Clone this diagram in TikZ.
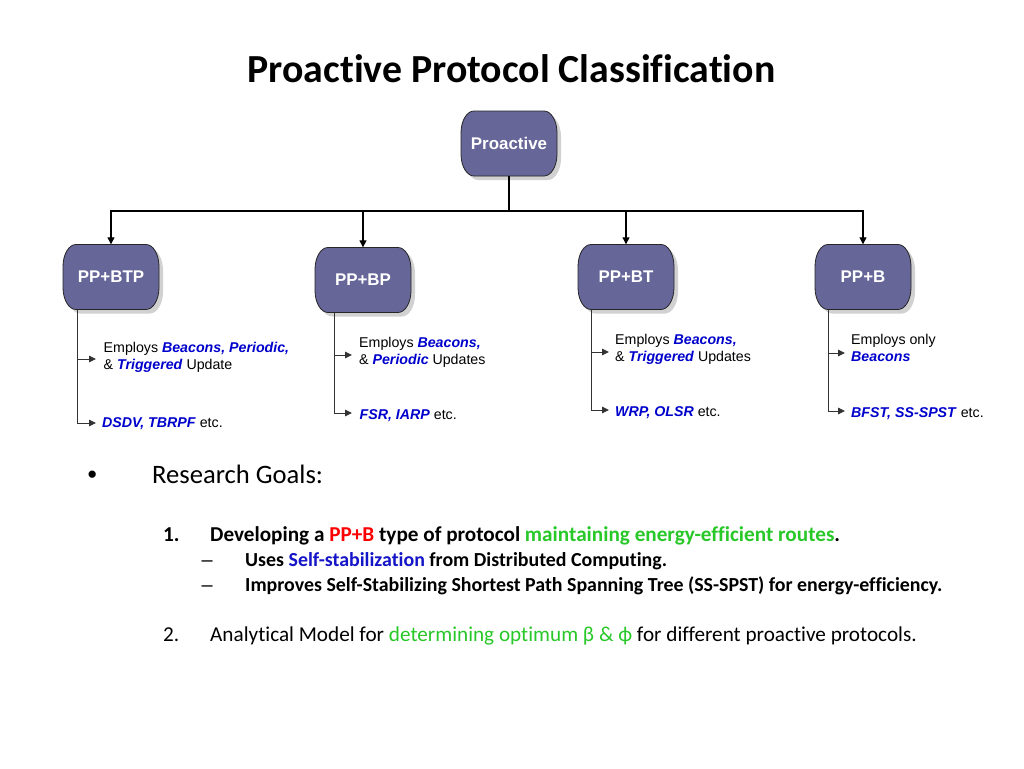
\documentclass[tikz,border=0pt]{standalone}
\usepackage{fontspec}
\setmainfont{Carlito}[Ligatures=NoCommon]
\newfontfamily\arialf{Liberation Sans}
\usetikzlibrary{arrows.meta,backgrounds}
\definecolor{nodefill}{RGB}{102,102,153}
\definecolor{lblue}{RGB}{0,0,204}
\definecolor{ggreen}{RGB}{40,200,40}
\definecolor{rred}{RGB}{255,0,0}
\definecolor{sblue}{RGB}{20,20,200}
\newcommand\kwbi[1]{\textcolor{lblue}{\textbf{\textit{#1}}}}
\newcommand\pshapepath{(-35,-32.5) -- (35,-32.5) .. controls (42.18,-32.5) and (48,-22.65) .. (48,-10.5) -- (48,10.5) .. controls (48,22.65) and (42.18,32.5) .. (35,32.5) -- (-35,32.5) .. controls (-42.18,32.5) and (-48,22.65) .. (-48,10.5) -- (-48,-10.5) .. controls (-48,-22.65) and (-42.18,-32.5) .. (-35,-32.5) -- cycle}
\tikzset{
  pnode/.style={minimum width=96pt, minimum height=65pt, inner sep=0pt, text=white,
    font=\arialf\bfseries\fontsize{16.9}{19}\selectfont},
  pshape/.style={fill=nodefill, draw=black!85, line width=0.8pt},
  pshadow/.style={fill=black!18},
  trunk/.style={draw=black, line width=1.6pt},
  bararr/.style={draw=black, line width=1.2pt, -{Triangle[length=7pt,width=7pt]}},
  sidearr/.style={draw=black!80, line width=0.9pt, -{Triangle[length=7pt,width=6.5pt]}},
  lbl/.style={inner sep=0pt, align=left, anchor=west, text height=10.2pt, text depth=2.9pt,
    font=\arialf\fontsize{14.2}{17}\selectfont},
  title/.style={inner sep=0pt, anchor=base, font=\bfseries\fontsize{39.8}{44}\selectfont},
  goal/.style={inner sep=0pt, anchor=base west, font=\fontsize{26.6}{30}\selectfont},
  item/.style={inner sep=0pt, anchor=base west, font=\fontsize{21.2}{24}\selectfont},
  subitem/.style={inner sep=0pt, anchor=base west, font=\fontsize{19.9}{23}\selectfont},
}
\begin{document}
\begin{tikzpicture}[x=1pt,y=-1pt]
\useasboundingbox (0,0) rectangle (1024,768);

\node[title] (ttl) at (511.5,82) {Proactive Protocol Classification};

% main nodes
\node[pnode] (pro) at (509,143.5) {Proactive};
\node[pnode] (btp) at (111,277) {PP+BTP};
\node[pnode] (bp)  at (363,280) {PP+BP};
\node[pnode] (bt)  at (626,277) {PP+BT};
\node[pnode] (b)   at (863,277) {PP+B};

% tree connectors
\coordinate (bar) at (509,211);
\draw[trunk] (pro.south) -- (bar);
\draw[bararr] (bar) -| (btp.north);
\draw[bararr] (bar) -| (bp.north);
\draw[bararr] (bar) -| (bt.north);
\draw[bararr] (bar) -| (b.north);

% labels
\node[lbl] (btp1) at (103.5,366) {Employs \kwbi{Beacons, Periodic,}\\\& \kwbi{Triggered} Update};
\node[lbl] (btp2) at (102,423.5) {\kwbi{DSDV, TBRPF} etc.};
\node[lbl] (bp1) at (359,361) {Employs \kwbi{Beacons,}\\\& \kwbi{Periodic} Updates};
\node[lbl] (bp2) at (359.5,416) {\kwbi{FSR, IARP} etc.};
\node[lbl] (bt1) at (615,357.5) {Employs \kwbi{Beacons,}\\\& \kwbi{Triggered} Updates};
\node[lbl] (bt2) at (615,413) {\kwbi{WRP, OLSR} etc.};
\node[lbl] (b1) at (851,358) {Employs only\\\kwbi{Beacons}};
\node[lbl] (b2) at (851,414) {\kwbi{BFST, SS-SPST} etc.};

\coordinate (btpT) at (77,300);  \coordinate (btpA) at (96,359);  \coordinate (btpB) at (96,423);
\coordinate (bpT)  at (334,300); \coordinate (bpA)  at (352,355); \coordinate (bpB)  at (352,413);
\coordinate (btT)  at (591,300); \coordinate (btA)  at (609,352); \coordinate (btB)  at (609,410);
\coordinate (bT)   at (828,300); \coordinate (bA)   at (845,353); \coordinate (bB)   at (845,411);

\begin{scope}[on background layer]
  \fill[white] (0,0) rectangle (1024,768);
  \foreach \n in {pro,btp,bp,bt,b}{
    \fill[pshadow, shift={(\n.center)}, xshift=4pt, yshift=-4pt] \pshapepath;
  }
  \draw[sidearr] (btpT) |- (btpB);
  \draw[sidearr] (btpT |- btpA) -- (btpA);
  \draw[sidearr] (bpT) |- (bpB);
  \draw[sidearr] (bpT |- bpA) -- (bpA);
  \draw[sidearr] (btT) |- (btB);
  \draw[sidearr] (btT |- btA) -- (btA);
  \draw[sidearr] (bT) |- (bB);
  \draw[sidearr] (bT |- bA) -- (bA);
  \foreach \n in {pro,btp,bp,bt,b}{
    \path[pshape, shift={(\n.center)}] \pshapepath;
  }
\end{scope}

% research goals
\node[goal] (bul) at (87.5,483) {\arialf •};
\node[goal] (rg) at (152,483) {Research Goals:};
\node[item] (n1) at (163,541) {\textbf{1.}};
\node[item] (g1) at (210,541) {\textbf{Developing a \textcolor{rred}{PP+B} type of protocol \textcolor{ggreen}{maintaining energy-efficient routes}.}};
\node[subitem] (d1) at (201.5,566) {\arialf –};
\node[subitem] (s1) at (245,566) {\textbf{Uses \textcolor{sblue}{Self-stabilization} from Distributed Computing.}};
\node[subitem] (d2) at (201.5,591) {\arialf –};
\node[subitem] (s2) at (245,591) {\textbf{Improves Self-Stabilizing Shortest Path Spanning Tree (SS-SPST) for energy-efficiency.}};
\node[item] (n2) at (163,641) {2.};
\node[item] (g2) at (210,641) {Analytical Model for \textcolor{ggreen}{determining optimum β \& ϕ} for different proactive protocols.};
\end{tikzpicture}
\end{document}
